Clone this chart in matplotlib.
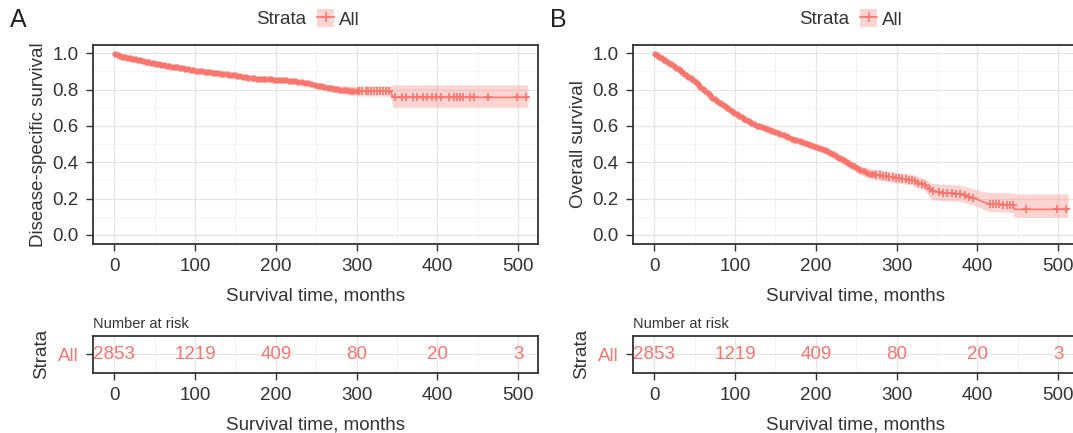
import numpy as np
import matplotlib
matplotlib.use('Agg')
from matplotlib import pyplot as plt
from matplotlib.patches import Patch
from matplotlib.lines import Line2D
from matplotlib.ticker import MultipleLocator

plt.rcParams['font.family'] = ['Liberation Sans', 'DejaVu Sans']

RED = '#F8766D'
TXT = '#333333'

# panel A - disease-specific survival
dss_t = [0, 5, 10, 20, 30, 40, 50, 60, 70, 80, 90, 100, 110, 120, 130, 140, 150, 160, 170, 180,
         190, 200, 210, 220, 230, 240, 250, 260, 270, 280, 290, 300, 310, 320, 330, 342, 345, 512]
dss_s = [1.0, 0.99, 0.982, 0.972, 0.962, 0.953, 0.945, 0.936, 0.928, 0.921, 0.913, 0.905, 0.899,
         0.894, 0.889, 0.884, 0.878, 0.871, 0.863, 0.86, 0.857, 0.854, 0.851, 0.847, 0.842, 0.835,
         0.823, 0.814, 0.806, 0.799, 0.795, 0.793, 0.792, 0.792, 0.792, 0.792, 0.757, 0.757]
dss_lo = [1.0, 0.988, 0.979, 0.969, 0.958, 0.949, 0.941, 0.931, 0.923, 0.916, 0.908, 0.899, 0.893,
          0.888, 0.882, 0.877, 0.871, 0.863, 0.855, 0.851, 0.848, 0.844, 0.840, 0.835, 0.829,
          0.821, 0.808, 0.797, 0.787, 0.778, 0.770, 0.766, 0.764, 0.764, 0.764, 0.764, 0.703, 0.703]
dss_hi = [1.0, 0.992, 0.985, 0.975, 0.966, 0.957, 0.949, 0.941, 0.933, 0.926, 0.918, 0.911, 0.905,
          0.900, 0.896, 0.891, 0.885, 0.879, 0.871, 0.869, 0.866, 0.864, 0.862, 0.859, 0.855,
          0.849, 0.838, 0.831, 0.825, 0.820, 0.820, 0.820, 0.821, 0.822, 0.822, 0.822, 0.826, 0.826]
# censored times: dense early part, then the separate marks
dss_cens_dense = [1, 4, 7, 10, 13, 16, 19, 22, 26, 29, 32, 35, 39, 42, 45, 49, 52, 55, 58, 62,
                  65, 68, 72, 75, 78, 81, 85, 88, 91, 95, 98, 101, 105, 108, 112, 115, 118, 122,
                  125, 128, 132, 135, 139, 142, 146, 149, 152, 156, 159, 163, 166, 170, 173, 177,
                  180, 184, 187, 191, 194, 198, 201, 205, 209, 212, 216, 220, 224, 228, 232, 236,
                  240, 244, 248, 252, 256, 260, 264, 268, 272, 276, 280, 284, 288, 292, 296, 300]
dss_cens_sparse = [303, 307, 311, 314, 318, 322, 325, 329, 333, 336, 340, 347, 356, 361, 370,
                   375, 382, 387, 393, 398, 405, 414, 421, 424, 428, 432, 440, 445, 462, 498, 510]

# panel B - overall survival
os_t = [0, 10, 25, 50, 73, 100, 115, 128, 149, 174, 200, 216, 237, 254, 265, 280, 301, 318, 326,
        335, 343, 354, 377, 389, 400, 406, 415, 444, 446, 512]
os_s = [1.0, 0.97, 0.927, 0.845, 0.752, 0.67, 0.63, 0.60, 0.569, 0.523, 0.486, 0.459, 0.404,
        0.358, 0.34, 0.327, 0.312, 0.303, 0.29, 0.275, 0.244, 0.233, 0.226, 0.211, 0.196, 0.183,
        0.171, 0.165, 0.141, 0.141]
os_lo = [1.0, 0.966, 0.921, 0.837, 0.742, 0.659, 0.618, 0.587, 0.555, 0.508, 0.469, 0.440, 0.382,
         0.333, 0.314, 0.300, 0.284, 0.275, 0.259, 0.243, 0.195, 0.190, 0.185, 0.172, 0.158,
         0.143, 0.130, 0.123, 0.097, 0.097]
os_hi = [1.0, 0.974, 0.933, 0.853, 0.762, 0.681, 0.642, 0.613, 0.583, 0.538, 0.503, 0.478, 0.426,
         0.383, 0.367, 0.360, 0.343, 0.336, 0.323, 0.310, 0.284, 0.280, 0.275, 0.262, 0.248,
         0.240, 0.235, 0.232, 0.226, 0.226]
os_cens_dense = [1, 3, 6, 9, 12, 15, 18, 21, 24, 27, 30, 33, 36, 39, 42, 45, 48, 51, 54, 57, 60,
                 63, 66, 69, 72, 75, 78, 81, 84, 87, 90, 93, 96, 99, 102, 105, 108, 111, 114, 117,
                 120, 124, 127, 130, 133, 137, 140, 143, 146, 150, 153, 156, 160, 163, 166, 170,
                 173, 176, 180, 183, 187, 190, 193, 197, 200, 204, 207, 211, 214, 218, 221, 225,
                 229, 232, 236, 240, 243, 247, 251, 255, 259, 263, 267, 271]
os_cens_sparse = [275, 279, 283, 287, 291, 295, 299, 303, 307, 311, 315, 319, 323, 327, 331, 335,
                  341, 345, 353, 357, 362, 368, 374, 378, 384, 390, 395, 415, 419, 423, 427, 432,
                  436, 440, 444, 460, 498, 510]

risk_times = [0, 100, 200, 300, 400, 500]
risk_counts = [2853, 1219, 409, 80, 20, 3]

W, H = 1073, 433
fig = plt.figure(figsize=(W / 100, H / 100), dpi=100)


def style(ax):
    ax.set_xlim(-26, 524.5)
    ax.xaxis.set_major_locator(MultipleLocator(100))
    ax.xaxis.set_minor_locator(MultipleLocator(50))
    ax.grid(which='major', color='#E6E6E6', lw=0.9)
    ax.grid(which='minor', color='#F2F2F2', lw=0.6)
    ax.set_axisbelow(True)
    for s in ax.spines.values():
        s.set_color(TXT)
        s.set_linewidth(1.3)
    ax.tick_params(which='major', length=5, width=1, color=TXT, labelcolor=TXT,
                   labelsize=13.5, pad=5.5)
    ax.tick_params(which='minor', length=0)


def km_panel(left, t, s, lo, hi, dense, sparse, ylab, letter):
    ax = fig.add_axes([left / W, 1 - 243.7 / H, 444.7 / W, 199 / H])
    style(ax)
    ax.set_ylim(-0.048, 1.047)
    ax.yaxis.set_major_locator(MultipleLocator(0.2))
    ax.yaxis.set_minor_locator(MultipleLocator(0.1))
    ax.yaxis.set_major_formatter(matplotlib.ticker.FormatStrFormatter('%.1f'))
    ax.fill_between(t, lo, hi, color=RED, alpha=0.3, lw=0)
    ax.plot(t, s, color=RED, lw=1.2)
    ax.plot(dense, np.interp(dense, t, s), ls='none', marker='+', ms=5, mew=2.4, color=RED)
    ax.plot(sparse, np.interp(sparse, t, s), ls='none', marker='+', ms=5.5, mew=1.2, color=RED)
    ax.set_xlabel('Survival time, months', fontsize=13.5, color=TXT, labelpad=9)
    ax.set_ylabel(ylab, fontsize=13.5, color=TXT, labelpad=4)
    fig.text((left - 83) / W, 1 - 20 / H, letter, fontsize=18, color='#222222',
             ha='left', va='center')
    return ax


def risk_panel(left):
    ax = fig.add_axes([left / W, 1 - 372.7 / H, 444.7 / W, 36.7 / H])
    style(ax)
    ax.set_ylim(-0.5, 0.5)
    ax.set_yticks([0])
    ax.set_yticklabels(['All'])
    ax.get_yticklabels()[0].set_color(RED)
    for x, n in zip(risk_times, risk_counts):
        ax.text(x, 0, str(n), color=RED, fontsize=13.5, ha='center', va='center')
    ax.set_xlabel('Survival time, months', fontsize=13.5, color=TXT, labelpad=9)
    ax.set_ylabel('Strata', fontsize=13.5, color=TXT, labelpad=6)
    ax.set_title('Number at risk', loc='left', fontsize=10.5, color=TXT, pad=6)
    return ax


def strata_legend(cx):
    fig.text(cx / W, 1 - 19 / H, 'Strata', fontsize=13.5, color=TXT, ha='right', va='center')
    key = (Patch(facecolor=RED, alpha=0.3, lw=0),
           Line2D([], [], color=RED, lw=1.2, marker='+', ms=7, mew=1.1))
    fig.legend(handles=[key], labels=['All'], loc='center left',
               bbox_to_anchor=((cx + 2) / W, 1 - 19 / H), frameon=False, fontsize=13.5,
               handlelength=0.9, handleheight=1.1, handletextpad=0.25, borderpad=0,
               labelcolor=TXT)


km_panel(93.3, dss_t, dss_s, dss_lo, dss_hi, dss_cens_dense, dss_cens_sparse,
         'Disease-specific survival', 'A')
km_panel(633.3, os_t, os_s, os_lo, os_hi, os_cens_dense, os_cens_sparse,
         'Overall survival', 'B')
risk_panel(93.3)
risk_panel(633.3)
strata_legend(306)
strata_legend(849)

fig.savefig('out.png', dpi=100)
